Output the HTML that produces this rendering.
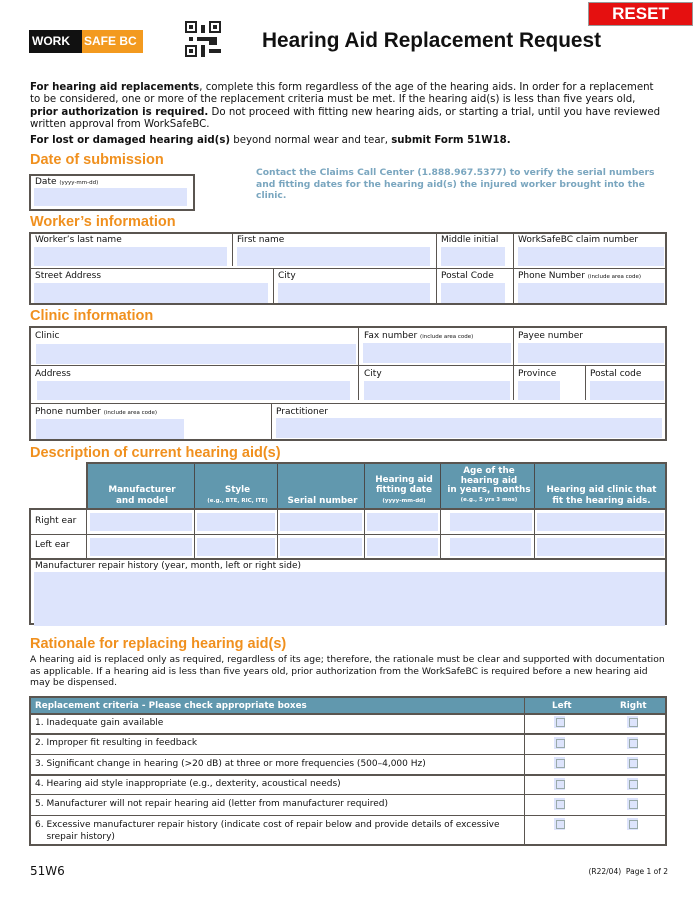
<!DOCTYPE html>
<html><head><meta charset="utf-8"><style>
body{margin:0;width:696px;height:899px;background:#fff;position:relative;font-family:"DejaVu Sans","Liberation Sans",sans-serif;color:#111;overflow:hidden}
div{position:absolute;box-sizing:border-box}
.bx{border:2px solid #5a5550}
.v{border-left:1.5px solid #5a5550;top:0;bottom:0}
.h{border-top:1.5px solid #5a5550;left:0;right:0}
.f{background:#dde4fc}
.l{font-size:9px;white-space:nowrap}
.s{font-size:5.5px}
.o{color:#f0901e;font-size:14.5px;font-weight:bold;white-space:nowrap;font-family:"Liberation Sans",sans-serif}
.p{font-size:10.2px;line-height:12.4px;white-space:nowrap}
.th{color:#fff;font-weight:bold;font-size:8.8px;text-align:center;line-height:10.5px;display:flex;flex-direction:column;justify-content:flex-end;padding-bottom:3px;top:0;bottom:0;white-space:nowrap}
.cb{width:11px;height:12px;background:#dde4fc}
.cb::after{content:"";position:absolute;left:2px;top:2px;width:7px;height:7px;border:1px solid #9aa}
</style></head><body>
<div style="left:588px;top:2px;width:105px;height:24px;background:#e51010;border:1px solid #999;color:#fff;font-weight:bold;font-size:17px;text-align:center;line-height:22px;font-family:'Liberation Sans',sans-serif">RESET</div>
<div style="left:29px;top:30px;width:53px;height:23px;background:#111;color:#fff;font-weight:bold;font-size:12px;line-height:23px;padding-left:3px;font-family:'Liberation Sans',sans-serif">WORK</div>
<div style="left:82px;top:30px;width:61px;height:23px;background:#f39a1f;color:#fff;font-weight:bold;font-size:12px;line-height:23px;padding-left:2px;font-family:'Liberation Sans',sans-serif">SAFE BC</div>
<svg style="position:absolute;left:185px;top:21px" width="36" height="36" viewBox="0 0 9 9"><g fill="#222"><rect x="0" y="0" width="3" height="3"/><rect x="6" y="0" width="3" height="3"/><rect x="0" y="6" width="3" height="3"/><rect x="4" y="1" width="1" height="2"/><rect x="3" y="4" width="3" height="1"/><rect x="6" y="4" width="2" height="2"/><rect x="4" y="6" width="1" height="3"/><rect x="6" y="7" width="3" height="1"/><rect x="1" y="4" width="1" height="1"/></g><g fill="#fff"><rect x=".5" y=".5" width="2" height="2"/><rect x="6.5" y=".5" width="2" height="2"/><rect x=".5" y="6.5" width="2" height="2"/></g><g fill="#222"><rect x="1" y="1" width="1" height="1"/><rect x="7" y="1" width="1" height="1"/><rect x="1" y="7" width="1" height="1"/></g></svg>
<div style="left:262px;top:29px;font-size:20.8px;font-weight:bold;white-space:nowrap;font-family:'Liberation Sans',sans-serif">Hearing Aid Replacement Request</div>
<div class="p" style="left:30px;top:82px"><b>For hearing aid replacements</b>, complete this form regardless of the age of the hearing aids. In order for a replacement<br>to be considered, one or more of the replacement criteria must be met. If the hearing aid(s) is less than five years old,<br><b>prior authorization is required.</b> Do not proceed with fitting new hearing aids, or starting a trial, until you have reviewed<br>written approval from WorkSafeBC.</div>
<div class="p" style="left:30px;top:135px"><b>For lost or damaged hearing aid(s)</b> beyond normal wear and tear, <b>submit Form 51W18.</b></div>
<div class="o" style="left:30px;top:152px">Date of submission</div>
<div class="bx" style="left:29px;top:174px;width:166px;height:37px"><div class="l" style="left:4px;top:1px">Date <span class="s">(yyyy-mm-dd)</span></div><div class="f" style="left:3px;top:12px;width:153px;height:18px"></div></div>
<div style="left:256px;top:167px;color:#7aa6bf;font-weight:bold;font-size:9.2px;line-height:11.5px;white-space:nowrap">Contact the Claims Call Center (1.888.967.5377) to verify the serial numbers<br>and fitting dates for the hearing aid(s) the injured worker brought into the<br>clinic.</div>
<div class="o" style="left:30px;top:214px">Worker’s information</div>
<div class="bx" style="left:29px;top:232px;width:638px;height:73px">
<div class="h" style="top:34px"></div>
<div class="v" style="left:201px;bottom:37px"></div><div class="v" style="left:242px;top:35px"></div><div class="v" style="left:405px"></div><div class="v" style="left:482px"></div>
<div class="l" style="left:4px;top:1px">Worker’s last name</div><div class="f" style="left:3px;top:13px;width:193px;height:19px"></div>
<div class="l" style="left:206px;top:1px">First name</div><div class="f" style="left:206px;top:13px;width:193px;height:19px"></div>
<div class="l" style="left:410px;top:1px">Middle initial</div><div class="f" style="left:410px;top:13px;width:64px;height:19px"></div>
<div class="l" style="left:487px;top:1px">WorkSafeBC claim number</div><div class="f" style="left:487px;top:13px;width:146px;height:19px"></div>
<div class="l" style="left:4px;top:37px">Street Address</div><div class="f" style="left:3px;top:49px;width:234px;height:20px"></div>
<div class="l" style="left:247px;top:37px">City</div><div class="f" style="left:247px;top:49px;width:152px;height:20px"></div>
<div class="l" style="left:410px;top:37px">Postal Code</div><div class="f" style="left:410px;top:49px;width:64px;height:20px"></div>
<div class="l" style="left:487px;top:37px">Phone Number <span class="s">(include area code)</span></div><div class="f" style="left:487px;top:49px;width:146px;height:20px"></div>
</div>
<div class="o" style="left:30px;top:308px">Clinic information</div>
<div class="bx" style="left:29px;top:326px;width:638px;height:115px">
<div class="h" style="top:37px"></div><div class="h" style="top:75px"></div>
<div class="v" style="left:327px;bottom:39px"></div><div class="v" style="left:482px;bottom:39px"></div><div class="v" style="left:554px;top:38px;bottom:39px"></div><div class="v" style="left:240px;top:76px"></div>
<div class="l" style="left:4px;top:3px">Clinic</div><div class="f" style="left:5px;top:16px;width:320px;height:20px"></div>
<div class="l" style="left:333px;top:3px">Fax number <span class="s">(include area code)</span></div><div class="f" style="left:332px;top:15px;width:148px;height:20px"></div>
<div class="l" style="left:487px;top:3px">Payee number</div><div class="f" style="left:487px;top:15px;width:146px;height:20px"></div>
<div class="l" style="left:4px;top:41px">Address</div><div class="f" style="left:6px;top:53px;width:313px;height:19px"></div>
<div class="l" style="left:333px;top:41px">City</div><div class="f" style="left:333px;top:53px;width:146px;height:19px"></div>
<div class="l" style="left:487px;top:41px">Province</div><div class="f" style="left:487px;top:53px;width:42px;height:19px"></div>
<div class="l" style="left:559px;top:41px">Postal code</div><div class="f" style="left:559px;top:53px;width:74px;height:19px"></div>
<div class="l" style="left:4px;top:79px">Phone number <span class="s">(include area code)</span></div><div class="f" style="left:5px;top:91px;width:148px;height:20px"></div>
<div class="l" style="left:245px;top:79px">Practitioner</div><div class="f" style="left:245px;top:90px;width:386px;height:20px"></div>
</div>
<div class="o" style="left:30px;top:445px">Description of current hearing aid(s)</div>
<div style="left:86px;top:462px;width:581px;height:47px;background:#6198ae;border:2px solid #5a5550;border-bottom:none">
<div class="th" style="left:0;width:108px">Manufacturer<br>and model</div>
<div class="th" style="left:108px;width:83px">Style<br><span class="s">(e.g., BTE, RIC, ITE)</span></div>
<div class="th" style="left:191px;width:87px">Serial number</div>
<div class="th" style="left:278px;width:76px">Hearing aid<br>fitting date<br><span class="s">(yyyy-mm-dd)</span></div>
<div class="th" style="left:354px;width:94px;line-height:9.8px">Age of the<br>hearing aid<br>in years, months<br><span class="s">(e.g., 5 yrs 3 mos)</span></div>
<div class="th" style="left:448px;width:131px">Hearing aid clinic that<br>fit the hearing aids.</div>
<div class="v" style="left:106px;border-color:#4a4a4a"></div><div class="v" style="left:189px;border-color:#4a4a4a"></div><div class="v" style="left:276px;border-color:#4a4a4a"></div><div class="v" style="left:352px;border-color:#4a4a4a"></div><div class="v" style="left:446px;border-color:#4a4a4a"></div>
</div>
<div class="bx" style="left:29px;top:508px;width:638px;height:51px;border-bottom:1.5px solid #5a5550">
<div class="h" style="top:24px"></div>
<div class="v" style="left:55px"></div><div class="v" style="left:163px"></div><div class="v" style="left:246px"></div><div class="v" style="left:333px"></div><div class="v" style="left:409px"></div><div class="v" style="left:503px"></div>
<div class="l" style="left:4px;top:6px">Right ear</div><div class="l" style="left:4px;top:30px">Left ear</div>
<div class="f" style="left:59px;top:3px;width:102px;height:18px"></div><div class="f" style="left:166px;top:3px;width:78px;height:18px"></div><div class="f" style="left:249px;top:3px;width:82px;height:18px"></div><div class="f" style="left:336px;top:3px;width:71px;height:18px"></div><div class="f" style="left:419px;top:3px;width:82px;height:18px"></div><div class="f" style="left:506px;top:3px;width:127px;height:18px"></div>
<div class="f" style="left:59px;top:28px;width:102px;height:18px"></div><div class="f" style="left:166px;top:28px;width:78px;height:18px"></div><div class="f" style="left:249px;top:28px;width:82px;height:18px"></div><div class="f" style="left:336px;top:28px;width:71px;height:18px"></div><div class="f" style="left:419px;top:28px;width:81px;height:18px"></div><div class="f" style="left:506px;top:28px;width:127px;height:18px"></div>
</div>
<div class="bx" style="left:29px;top:558px;width:638px;height:67px">
<div class="l" style="left:4px;top:1px">Manufacturer repair history (year, month, left or right side)</div>
<div class="f" style="left:3px;top:12px;width:631px;height:54px"></div></div>
<div class="o" style="left:30px;top:636px">Rationale for replacing hearing aid(s)</div>
<div class="p" style="left:30px;top:654px;font-size:9.2px;line-height:11.5px">A hearing aid is replaced only as required, regardless of its age; therefore, the rationale must be clear and supported with documentation<br>as applicable. If a hearing aid is less than five years old, prior authorization from the WorkSafeBC is required before a new hearing aid<br>may be dispensed.</div>
<div class="bx" style="left:29px;top:696px;width:638px;height:150px">
<div style="left:0;right:0;top:0;height:16px;background:#6198ae;color:#fff;font-weight:bold;font-size:8.8px;line-height:16px;padding-left:4px">Replacement criteria - Please check appropriate boxes<span style="position:absolute;left:521px">Left</span><span style="position:absolute;left:589px">Right</span></div>
<div class="h" style="top:15px;border-top-width:2px"></div><div class="h" style="top:35px;border-top-width:2px"></div><div class="h" style="top:56px"></div><div class="h" style="top:76px;border-top-width:2px"></div><div class="h" style="top:96px"></div><div class="h" style="top:117px"></div>
<div class="v" style="left:493px"></div>
<div class="l" style="left:4px;top:20px">1. Inadequate gain available</div>
<div class="l" style="left:4px;top:40px">2. Improper fit resulting in feedback</div>
<div class="l" style="left:4px;top:61px">3. Significant change in hearing (&gt;20 dB) at three or more frequencies (500–4,000 Hz)</div>
<div class="l" style="left:4px;top:81px">4. Hearing aid style inappropriate (e.g., dexterity, acoustical needs)</div>
<div class="l" style="left:4px;top:101px">5. Manufacturer will not repair hearing aid (letter from manufacturer required)</div>
<div class="l" style="left:4px;top:121px;line-height:12px">6. Excessive manufacturer repair history (indicate cost of repair below and provide details of excessive<br>&nbsp;&nbsp;&nbsp;&nbsp;srepair history)</div>
<div class="cb" style="left:523px;top:18px"></div><div class="cb" style="left:596px;top:18px"></div>
<div class="cb" style="left:523px;top:39px"></div><div class="cb" style="left:596px;top:39px"></div>
<div class="cb" style="left:523px;top:59px"></div><div class="cb" style="left:596px;top:59px"></div>
<div class="cb" style="left:523px;top:80px"></div><div class="cb" style="left:596px;top:80px"></div>
<div class="cb" style="left:523px;top:100px"></div><div class="cb" style="left:596px;top:100px"></div>
<div class="cb" style="left:523px;top:120px"></div><div class="cb" style="left:596px;top:120px"></div>
</div>
<div style="left:30px;top:864px;font-size:12px">51W6</div>
<div style="right:28px;top:867px;font-size:7.5px;white-space:nowrap">(R22/04)&nbsp; Page 1 of 2</div>
</body></html>
